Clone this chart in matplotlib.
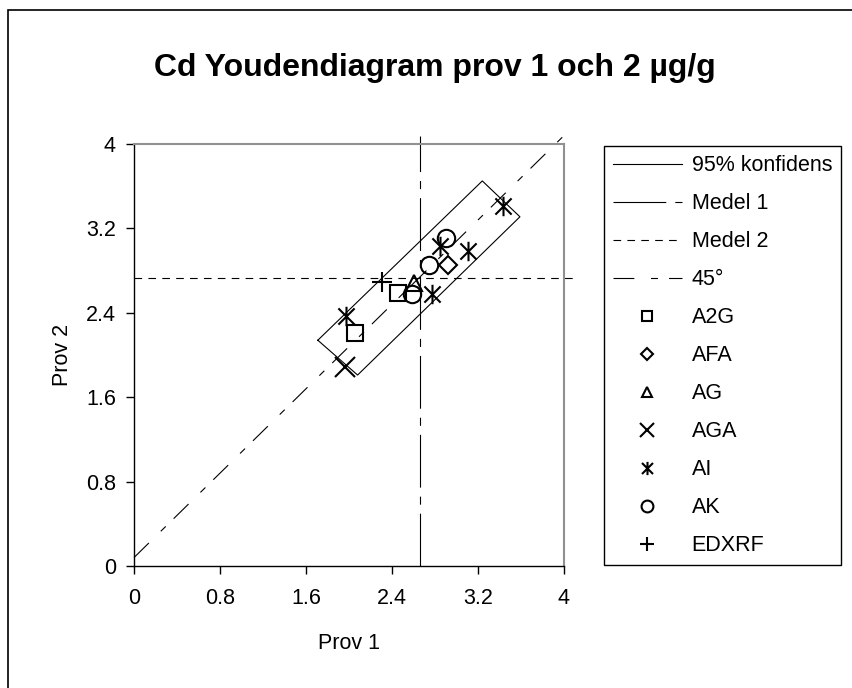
import matplotlib.pyplot as plt
import numpy as np
from matplotlib.patches import Rectangle
from matplotlib.path import Path

plt.rcParams["font.family"] = ["Liberation Sans", "DejaVu Sans"]
plt.rcParams["lines.scale_dashes"] = False

# data
title = "Cd Youdendiagram prov 1 och 2 µg/g"
ticks = [0, 0.8, 1.6, 2.4, 3.2, 4]
tick_labels = ["0", "0.8", "1.6", "2.4", "3.2", "4"]

conf_x = [1.71, 3.24, 3.59, 2.08, 1.71]
conf_y = [2.14, 3.65, 3.31, 1.81, 2.14]
medel1 = 2.66
medel2 = 2.73
diag_x = [0, 4.0]
diag_y = [0.08, 4.08]
line_end = 4.08

a2g_x = [2.06, 2.46]
a2g_y = [2.21, 2.59]
afa_x = [2.92]
afa_y = [2.85]
ag_x = [2.60]
ag_y = [2.685]
aga_x = [1.96]
aga_y = [1.89]
ai_x = [3.43, 3.11, 2.85, 2.77, 1.97]
ai_y = [3.41, 2.99, 3.03, 2.575, 2.37]
ak_x = [2.90, 2.74, 2.59]
ak_y = [3.11, 2.85, 2.575]
edxrf_x = [2.31]
edxrf_y = [2.69]

# excel-like asterisk: X plus vertical bar
star = Path(
    [(-1, -1), (1, 1), (-1, 1), (1, -1), (0, -1.2), (0, 1.2)],
    [Path.MOVETO, Path.LINETO, Path.MOVETO, Path.LINETO, Path.MOVETO, Path.LINETO],
)

W, H = 853, 688
fs = 15.5
fig = plt.figure(figsize=(W / 100, H / 100), dpi=100)
# chart frame: only left and top edges fall inside the picture
fig.patches.append(
    Rectangle((8 / W, -0.5), 2, 0.5 + (H - 10) / H, transform=fig.transFigure,
              fill=False, edgecolor="black", linewidth=1.2)
)
ax = fig.add_axes([134 / W, (H - 566) / H, 430 / W, 422 / H])

lw = 0.8
h_conf, = ax.plot(conf_x, conf_y, color="black", lw=lw, label="95% konfidens")
h_m1, = ax.plot([medel1, medel1], [0, line_end], color="black", lw=lw,
                dashes=(38, 6.5, 5.8, 6.5), clip_on=False, label="Medel 1")
h_m2, = ax.plot([0, line_end], [medel2, medel2], color="black", lw=lw,
                dashes=(5.5, 4.5), clip_on=False, label="Medel 2")
h_d, = ax.plot(diag_x, diag_y, color="black", lw=lw,
               dashes=(15, 12, 5, 8), clip_on=False, label="45°")

mk = dict(ls="none", color="black", mfc="none", mew=1.5, ms=11)
h1, = ax.plot(a2g_x, a2g_y, marker="s", label="A2G", **mk)
h2, = ax.plot(afa_x, afa_y, marker="D", label="AFA", **{**mk, "ms": 9})
h3, = ax.plot(ag_x, ag_y, marker="^", label="AG", **mk)
h4, = ax.plot(aga_x, aga_y, marker="x", label="AGA", **{**mk, "ms": 14})
h5, = ax.plot(ai_x, ai_y, marker=star, label="AI", **{**mk, "ms": 14})
h6, = ax.plot(ak_x, ak_y, marker="o", label="AK", **{**mk, "ms": 12.5})
h7, = ax.plot(edxrf_x, edxrf_y, marker="+", label="EDXRF", **{**mk, "ms": 15})

ax.set_xlim(0, 4)
ax.set_ylim(0, 4)
ax.set_xticks(ticks)
ax.set_xticklabels(tick_labels)
ax.set_yticks(ticks)
ax.set_yticklabels(tick_labels)
ax.tick_params(direction="out", length=6, width=1, labelsize=fs)
ax.tick_params(axis="x", pad=10)
ax.tick_params(axis="y", pad=7)
for s in ["top", "right"]:
    ax.spines[s].set_color("#909090")
    ax.spines[s].set_linewidth(1.5)
for s in ["left", "bottom"]:
    ax.spines[s].set_color("black")
    ax.spines[s].set_linewidth(1)

ax.set_xlabel("Prov 1", fontsize=fs, labelpad=17)
ax.set_ylabel("Prov 2", fontsize=fs, labelpad=9)
fig.text(435 / W, 1 - 68 / H, title, fontsize=23, fontweight="bold",
         ha="center", va="center")

leg = fig.legend(
    handles=[h_conf, h_m1, h_m2, h_d, h1, h2, h3, h4, h5, h6, h7],
    loc="upper left", bbox_to_anchor=(604 / W, 1 - 146 / H),
    fontsize=fs, frameon=True, fancybox=False, edgecolor="black",
    framealpha=1, borderpad=0.42, labelspacing=0.79, handlelength=3.2,
    handletextpad=0.45, markerscale=0.68, borderaxespad=0,
)
leg.get_frame().set_linewidth(1)

fig.savefig("out.png", dpi=100)
